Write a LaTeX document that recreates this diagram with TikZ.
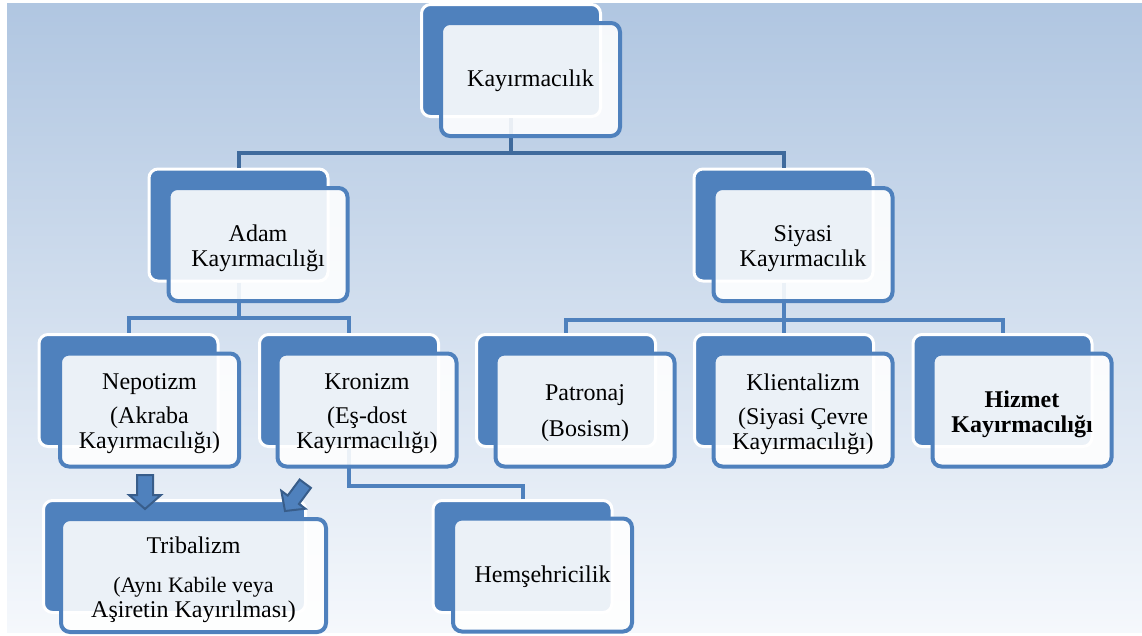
\documentclass[tikz,border=0pt]{standalone}
\usepackage{fontspec}
\setmainfont{Liberation Serif}
\definecolor{boxblue}{HTML}{4F81BD}
\definecolor{linkdark}{HTML}{3F6A9C}
\definecolor{arrowedge}{HTML}{385D8A}
\definecolor{bgtop}{RGB}{176,198,225}
\definecolor{bgmid}{RGB}{218,227,239}
\definecolor{bgbot}{RGB}{245,248,252}
\newcommand\boxfont{\fontsize{24}{25}\selectfont}
\begin{document}
\begin{tikzpicture}[x=1pt,y=-1pt,
  backbox/.style={draw=white, line width=3pt, fill=boxblue, rounded corners=9pt,
    minimum width=179pt, minimum height=112pt, inner sep=0pt},
  frontbox/.style={draw=boxblue, line width=4pt, fill=white, fill opacity=0.89,
    rounded corners=9pt, minimum width=179pt, minimum height=113pt, inner sep=0pt},
  boxtext/.style={inner sep=0pt, align=center, font=\boxfont},
  link/.style={draw=boxblue, line width=4pt},
  linktop/.style={draw=linkdark, line width=4pt},
  blockarr/.style={fill=boxblue, draw=arrowedge, line width=2pt, line join=miter}]

\useasboundingbox (0,0) rectangle (1142,635);

% backdrop with vertical gradient
\shade[top color=bgtop, middle color=bgmid, bottom color=bgbot] (7,3) rectangle (1142,632);

% back plates
\node[backbox] (kb)  at (511,60.5) {};
\node[backbox] (ab)  at (238.5,225) {};
\node[backbox] (sb)  at (783.5,225) {};
\node[backbox] (nb)  at (128.5,390.5) {};
\node[backbox] (krb) at (349,390.5) {};
\node[backbox] (pb)  at (566,390.5) {};
\node[backbox] (clb) at (784,390.5) {};
\node[backbox] (hb)  at (1002.5,390.5) {};
\node[backbox, minimum width=262pt] (tb) at (174.5,556.5) {};
\node[backbox] (heb) at (522.5,556.5) {};

% connectors
\coordinate (bus1) at (511,152.5);
\coordinate (bus2a) at (238.5,318);
\coordinate (bus2b) at (783.5,320);
\coordinate (bus3) at (349,486);
\draw[linktop] (kb.south) -- (bus1) -| (ab.north);
\draw[linktop] (bus1) -| (sb.north);
\draw[link] (ab.south) -- (bus2a) -| (nb.north);
\draw[link] (bus2a) -| (krb.north);
\draw[link] (sb.south) -- (bus2b) -| (pb.north);
\draw[link] (bus2b) -- (clb.north |- bus2b) -- (clb.north);
\draw[link] (bus2b) -| (hb.north);
\draw[link] (krb.south) -- (bus3) -| (heb.north);

% front plates
\node[frontbox] (kf)  at (530.5,79.5) {};
\node[frontbox] (af)  at (258,244.5) {};
\node[frontbox] (sf)  at (803,244.5) {};
\node[frontbox] (nf)  at (149.5,410) {};
\node[frontbox] (krf) at (367,410) {};
\node[frontbox] (pf)  at (585,410) {};
\node[frontbox] (clf) at (803,410) {};
\node[frontbox] (hf)  at (1022,410) {};
\node[frontbox, minimum width=265pt] (tf) at (193.5,575.5) {};
\node[frontbox] (hef) at (542.5,575) {};

% labels
\node[boxtext] (kt)  at ([yshift=-1pt]kf.center) {Kayırmacılık};
\node[boxtext] (at)  at ([yshift=-4pt]af.center) {Adam\\Kayırmacılığı};
\node[boxtext] (st)  at ([yshift=-4pt]sf.center) {Siyasi\\Kayırmacılık};
\node[boxtext] (nt)  at ([yshift=-4pt]nf.center) {Nepotizm\\[9pt](Akraba\\Kayırmacılığı)};
\node[boxtext] (krt) at ([yshift=-4pt]krf.center) {Kronizm\\[9pt](Eş-dost\\Kayırmacılığı)};
\node[boxtext] (pt)  at ([yshift=-3pt]pf.center) {Patronaj\\[11pt](Bosism)};
\node[boxtext] (clt) at ([yshift=-4pt]clf.center) {Klientalizm\\[9pt](Siyasi Çevre\\Kayırmacılığı)};
\node[boxtext, font=\boxfont\bfseries] (ht) at ([yshift=-4pt]hf.center) {Hizmet\\Kayırmacılığı};
\node[boxtext] (tt)  at ([yshift=-4pt]tf.center)
  {Tribalizm\\[14pt]\fontsize{22}{22}\selectfont (Aynı Kabile veya\\Aşiretin Kayırılması)};
\node[boxtext] (het) at ([yshift=-2pt]hef.center) {Hemşehricilik};

% block arrows pointing into Tribalizm
\begin{scope}[shift={(145,509)}]
  \draw[blockarr] (-8,-34) -- (8,-34) -- (8,-14) -- (16,-14) -- (0,0) -- (-16,-14) -- (-8,-14) -- cycle;
\end{scope}
\begin{scope}[shift={(285,511)}, rotate=-36.6]
  \draw[blockarr] (-7,-34) -- (7,-34) -- (7,-14) -- (15,-14) -- (0,0) -- (-15,-14) -- (-7,-14) -- cycle;
\end{scope}
\end{tikzpicture}
\end{document}
